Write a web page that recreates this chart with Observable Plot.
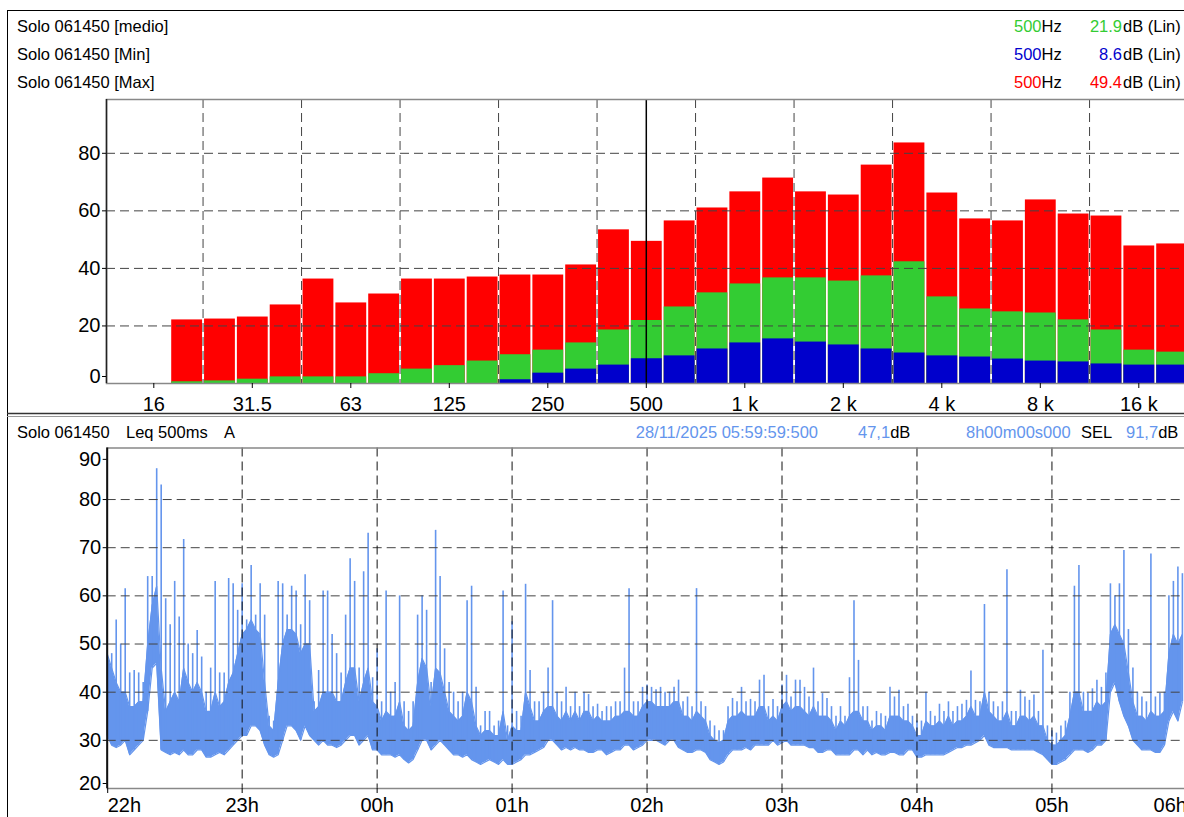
<!DOCTYPE html>
<html>
<head>
<meta charset="utf-8">
<script src="https://cdn.jsdelivr.net/npm/d3@7"></script>
<script src="https://cdn.jsdelivr.net/npm/@observablehq/plot@0.6"></script>
<style>
html, body { margin: 0; padding: 0; background: #fff; overflow: hidden; width: 1184px; height: 817px; }
#root { position: relative; width: 1184px; height: 817px; overflow: hidden; font-family: "Liberation Sans", Arial, sans-serif; }
.chart { position: absolute; left: 0; width: 1200px; }
#overlay { position: absolute; left: 0; top: 0; z-index: 5; pointer-events: none; }
</style>
</head>
<body>
<div id="root">
  <div id="topChart" class="chart" style="top:89px"></div>
  <div id="bottomChart" class="chart" style="top:438px"></div>
  <svg id="overlay" width="1184" height="817" font-family="'Liberation Sans', Arial, sans-serif" font-size="16.5">
    <line x1="7" y1="10.5" x2="1184" y2="10.5" stroke="#000" stroke-width="1"/>
    <line x1="7.5" y1="10" x2="7.5" y2="817" stroke="#000" stroke-width="1"/>
    <line x1="7" y1="413.5" x2="1184" y2="413.5" stroke="#333" stroke-width="1.5"/>
    <line x1="7" y1="416.5" x2="1184" y2="416.5" stroke="#999" stroke-width="1"/>
    <text x="17" y="32">Solo 061450 [medio]</text>
    <text x="17" y="60">Solo 061450 [Min]</text>
    <text x="17" y="88">Solo 061450 [Max]</text>
    <text x="1014" y="32"><tspan fill="#33cc33">500</tspan>Hz</text>
    <text x="1122" y="32" text-anchor="end" fill="#33cc33">21.9</text>
    <text x="1123" y="32">dB (Lin)</text>
    <text x="1014" y="60"><tspan fill="#0000cd">500</tspan>Hz</text>
    <text x="1122" y="60" text-anchor="end" fill="#0000cd">8.6</text>
    <text x="1123" y="60">dB (Lin)</text>
    <text x="1014" y="88"><tspan fill="#ff0000">500</tspan>Hz</text>
    <text x="1122" y="88" text-anchor="end" fill="#ff0000">49.4</text>
    <text x="1123" y="88">dB (Lin)</text>
    <text x="17" y="437.5">Solo 061450</text>
    <text x="126" y="437.5">Leq 500ms</text>
    <text x="224" y="437.5">A</text>
    <text x="818" y="437.5" text-anchor="end" fill="#6495ed">28/11/2025 05:59:59:500</text>
    <text x="858" y="437.5"><tspan fill="#6495ed">47,1</tspan>dB</text>
    <text x="966" y="437.5" fill="#6495ed">8h00m00s000</text>
    <text x="1081" y="437.5">SEL</text>
    <text x="1126" y="437.5"><tspan fill="#6495ed">91,7</tspan>dB</text>
  </svg>
</div>
<script>
// ---------- Top panel: 1/3 octave spectrum ----------
const bandHz = [20, 25, 31.5, 40, 50, 63, 80, 100, 125, 160, 200, 250, 315, 400, 500, 630, 800,
  1000, 1250, 1600, 2000, 2500, 3150, 4000, 5000, 6300, 8000, 10000, 12500, 16000, 20000];
const maxDb = [22.1, 22.4, 23.1, 27.3, 36.3, 28.0, 31.1, 36.3, 36.3, 37.0, 37.7, 37.7, 41.2, 53.4, 49.4, 56.5, 61.0,
  66.6, 71.4, 66.6, 65.5, 75.9, 83.6, 66.2, 57.2, 56.5, 63.8, 58.9, 58.2, 47.8, 48.5];
const medioDb = [0.6, 0.9, 1.5, 2.3, 2.3, 2.3, 3.4, 5.0, 6.2, 7.8, 10.0, 11.6, 14.1, 18.6, 21.9, 26.6, 31.5,
  34.6, 36.7, 36.7, 35.6, 37.4, 42.3, 30.1, 25.9, 24.9, 24.5, 22.1, 18.6, 11.6, 10.9];
const minDb = [0, 0, 0, 0, 0, 0, 0, 0, 0, 0, 1.3, 3.6, 5.0, 6.4, 8.6, 9.6, 12.0,
  14.1, 15.5, 14.4, 13.4, 12.0, 10.6, 9.6, 9.2, 8.5, 7.8, 7.5, 6.8, 6.4, 6.4];
const freqTickLabels = ["16", "31.5", "63", "125", "250", "500", "1 k", "2 k", "4 k", "8 k", "16 k"];
const spectrumYTicks = [0, 20, 40, 60, 80];
const cursorHz = 500;

// ---------- Bottom panel: Leq 500ms A, 22h -> 06h, 2-minute columns ----------
// leqHi: peak of the column, leqBand: top of the dense trace, leqLo: bottom of the trace
const hourLabels = ["22h", "23h", "00h", "01h", "02h", "03h", "04h", "05h", "06h"];
const leqYTicks = [20, 30, 40, 50, 60, 70, 80, 90];
const leqHi = [
  57, 48, 55, 50, 61.5, 44, 44.5, 44, 42, 64,
  64, 86.4, 83, 59.4, 54, 63, 55.6, 71.7, 50, 48,
  52.8, 47.3, 40, 45, 63, 44, 44, 63.6, 62.5, 57,
  62.5, 55, 66.3, 56, 62.5, 56, 35, 34, 63, 62.5,
  56, 62, 61, 54, 64.4, 59, 38, 44.5, 61, 61,
  52, 48, 44, 56, 67.7, 63, 45, 65, 73, 43,
  49, 38, 61, 40, 42, 60, 38, 36, 38, 56,
  60, 57, 42, 73.6, 64, 49, 42, 40, 38, 40,
  59, 62, 41, 33, 36, 36, 33, 34, 61, 33,
  54.6, 36, 35, 62.4, 44.5, 38, 38, 40, 45, 59,
  40, 38, 41, 37, 40, 37, 40, 39.5, 37, 37.5,
  36, 37, 37, 38, 38, 45, 61.5, 38, 38, 41,
  41.5, 41, 40.5, 41, 40, 40, 41, 42.5, 38, 39,
  37, 61.5, 38, 37, 34, 33, 32, 32, 37, 38.7,
  38, 41, 38, 38.5, 38, 42.5, 43.5, 37, 38.5, 37,
  41.5, 43.5, 39, 42.5, 42.5, 41, 39, 45, 38, 39.7,
  38.7, 37, 35, 37, 35, 43, 59, 46.6, 37, 37,
  34, 36, 35.5, 35, 41, 39, 40.4, 37, 37.5, 35,
  34, 34, 40, 36, 35, 37.5, 36, 38, 36, 37,
  37.5, 38.3, 44.4, 38.3, 38, 58.2, 40, 38, 37, 38,
  65.4, 36, 36, 40.4, 39, 38.3, 39.4, 36, 48.7, 33,
  32, 31.5, 33, 34, 40, 62, 66.3, 40, 39.7, 40.7,
  42.5, 41, 44, 62.5, 60, 62.5, 69.4, 53, 45, 40,
  39, 38, 68.7, 39, 39.7, 40, 60, 63, 66, 64.6
];
const leqBand = [
  48, 45, 42, 40, 40, 37, 37, 38, 38, 50,
  58, 62, 45, 36, 38, 40, 38, 45, 42, 40,
  42, 40, 36, 36, 40, 37, 38, 42, 44, 48,
  52, 53, 55, 53, 52, 42, 33, 32, 42, 50,
  53, 53, 52, 48, 50, 50, 36, 37, 40, 40,
  40, 38, 38, 42, 45, 45, 38, 42, 45, 38,
  37, 34, 36, 35, 35, 38, 33, 32, 33, 42,
  47, 45, 37, 45, 44, 40, 36, 35, 34, 35,
  40, 38, 33, 31, 32, 32, 31, 31, 36, 30,
  33, 32, 32, 40, 37, 34, 34, 36, 37, 37,
  35, 34, 36, 34, 36, 34, 36, 36, 34, 35,
  34, 34, 34, 35, 35, 36, 36, 35, 35, 37,
  38, 38, 37, 37, 37, 37, 38, 38, 35, 35,
  34, 36, 35, 34, 31, 30, 29.5, 30, 34, 35,
  35, 36, 35, 35, 35, 37, 37, 34, 35, 34,
  37, 38, 36, 37, 37, 36, 35, 37, 35, 35,
  35, 34, 32, 34, 33, 35, 36, 36, 34, 34,
  32, 33, 33, 32, 35, 35, 35, 34, 34, 33,
  31, 31, 34, 33, 33, 34, 33, 35, 33, 34,
  34, 35, 37, 35, 35, 40, 36, 35, 34, 34,
  36, 33, 33, 35, 35, 34, 35, 33, 33, 30,
  29, 29, 30, 31, 35, 40, 40, 36, 36, 36,
  38, 37, 38, 52, 54, 52, 50, 44, 38, 35,
  35, 34, 36, 35, 35, 36, 48, 52, 50, 52
];
const leqLo = [
  31, 29, 28.5, 29, 30, 27, 28, 29, 30, 36,
  45, 46, 28, 27.5, 27, 27.5, 27, 28, 27, 27,
  28, 28, 26.5, 26.5, 27, 27.5, 27, 28, 29, 30,
  31, 31, 33, 33, 32, 29, 27, 26.5, 27, 30,
  33, 33, 32, 30, 33, 31, 30, 29, 30, 29,
  29, 28.5, 29, 30, 31, 31, 29, 30, 31, 28,
  28, 27, 27, 27, 26.5, 27, 26, 25.3, 26, 28,
  30, 30, 28, 29, 30, 29, 28, 27, 27, 26.5,
  27, 26, 25.5, 25, 25.5, 26, 25.5, 25, 26, 25,
  25, 25.5, 26, 27, 27, 27.5, 28, 28.5, 30, 30,
  29, 28, 28.5, 28, 28.5, 28, 28, 27.5, 27.5, 28,
  28, 27, 27.5, 28, 28, 29, 29, 28, 28.5, 29,
  30, 30, 30, 29.5, 29, 30, 30, 28.5, 28, 27.5,
  27.5, 28, 28, 27.5, 26, 25.5, 25, 25.5, 27, 28,
  28, 28, 28.5, 28, 29, 29, 29, 29, 30, 29,
  29.5, 30, 29, 29, 29, 29, 28.5, 28.5, 27.5, 27.5,
  28, 28, 27, 27, 27, 27, 28, 28, 27, 28,
  27, 27.5, 27, 27, 27.5, 27.5, 27, 27, 28, 28,
  26.5, 26.5, 27, 27, 27, 27, 27, 27.5, 28, 28.5,
  28.5, 29, 29, 29.5, 30, 31, 29, 28.5, 28.5, 28.5,
  28.5, 28, 28, 28, 28, 28, 28, 27.5, 27, 26,
  25, 25, 25.5, 26, 27, 28, 28, 28, 27.5, 28,
  29, 29, 30, 40, 42, 38, 35, 33, 30, 29,
  28, 28, 28, 27.5, 27.5, 29, 34, 36, 34, 38
];

const FONT = "'Liberation Sans', Arial, sans-serif";
const W = 1200;
const svgStyle = {fontFamily: FONT, fontSize: "20px", background: "transparent", maxWidth: "none", overflow: "visible"};

// frequency axis in octaves above the 16 Hz band (15.625 Hz exact), laid out like the analyser
const f0 = 15.625, x16 = 153.3, pxOct = 98.5, leftPx = 106;
const oct = f => Math.log2(f / f0);
const xDomTop = [(leftPx - x16) / pxOct, (W - x16) / pxOct];
const bandOct = f => Math.round(3 * Math.log2(f / 1000)) / 3 + Math.log2(1000 / f0);
const bars = bandHz.map((f, i) => ({o: bandOct(f), max: maxDb[i], med: medioDb[i], min: minDb[i]}));
const tickOct = freqTickLabels.map((_, i) => i);
const octaveEdges = d3.range(freqTickLabels.length - 1).map(n => n + 0.5);
const dash = "9,5";
const rectOpts = {x1: d => d.o - 1 / 6, x2: d => d.o + 1 / 6, y1: 0, insetLeft: 1.5, insetRight: 0.5};

const topPlot = Plot.plot({
  width: W, height: 328, marginTop: 10, marginBottom: 34, marginLeft: leftPx, marginRight: 0,
  style: svgStyle,
  x: {type: "linear", domain: xDomTop},
  y: {domain: [0, 98.7]},
  marks: [
    Plot.rect(bars, {...rectOpts, y2: "max", fill: "#ff0000"}),
    Plot.rect(bars, {...rectOpts, y2: "med", fill: "#33cc33"}),
    Plot.rect(bars.filter(d => d.min > 0), {...rectOpts, y2: "min", fill: "#0000cc"}),
    Plot.gridY(spectrumYTicks.slice(1), {stroke: "#444", strokeOpacity: 1, strokeDasharray: dash}),
    Plot.gridX(octaveEdges, {stroke: "#444", strokeOpacity: 1, strokeDasharray: dash}),
    Plot.ruleX([oct(cursorHz)], {stroke: "#000", strokeWidth: 1.5}),
    Plot.frame({stroke: "#888", strokeWidth: 1.5}),
    Plot.ruleX([xDomTop[0]], {stroke: "#222", strokeWidth: 1.5}),
    Plot.axisX(tickOct, {tickFormat: d => freqTickLabels[d], tickSize: 5, tickPadding: 8, fontSize: 20, label: null}),
    Plot.axisY(spectrumYTicks.slice(1), {tickSize: 4, tickPadding: 2, fontSize: 20, label: null}),
    Plot.axisY(spectrumYTicks.slice(0, 1), {tickSize: 4, tickPadding: 2, fontSize: 20, label: null, dy: -7})
  ]
});
document.getElementById("topChart").append(topPlot);

// ---------- bottom ----------
const cols = leqHi.map((h, i) => ({t: 2 * i, hi: h, band: leqBand[i], lo: leqLo[i]}));
const hourTicks = hourLabels.map((_, i) => i * 60);
const hourName = new Map(hourTicks.map((v, i) => [v, hourLabels[i]]));
const hourFmt = d => hourName.get(d);
const axX = {tickFormat: hourFmt, tickSize: 5, tickPadding: 4, fontSize: 20, label: null};
const axY = {tickSize: 4, tickPadding: 2, fontSize: 20, label: null};
const blue = "#6495ed";

const bottomPlot = Plot.plot({
  width: W, height: 379, marginTop: 9.5, marginBottom: 29, marginLeft: 106.7, marginRight: 13.6,
  style: svgStyle,
  x: {domain: [0, 480]},
  y: {domain: [20, 90.7]},
  marks: [
    Plot.areaY(cols, {x: "t", y1: "lo", y2: "band", fill: blue}),
    Plot.line(cols, {x: "t", y: "band", stroke: blue, strokeWidth: 1.2}),
    Plot.line(cols, {x: "t", y: "lo", stroke: blue, strokeWidth: 1.2}),
    Plot.ruleX(cols, {x: "t", y1: "lo", y2: "hi", stroke: blue, strokeWidth: 1.6}),
    Plot.gridY(leqYTicks.slice(1, -1), {stroke: "#444", strokeOpacity: 1, strokeDasharray: dash}),
    Plot.gridX(hourTicks.slice(1, -1), {stroke: "#111", strokeOpacity: 1, strokeDasharray: dash}),
    Plot.frame({stroke: "#888", strokeWidth: 1.5}),
    Plot.ruleX(hourTicks.slice(0, 1), {stroke: "#111", strokeWidth: 2}),
    Plot.axisX(hourTicks.slice(0, 1), {...axX, textAnchor: "start", dx: 0.5}),
    Plot.axisX(hourTicks.slice(1, -1), axX),
    Plot.axisX(hourTicks.slice(-1), {...axX, textAnchor: "end"}),
    Plot.axisY(leqYTicks.slice(1, -1), axY),
    Plot.axisY(leqYTicks.slice(-1), {...axY, dy: 8}),
    Plot.axisY(leqYTicks.slice(0, 1), {...axY, dy: -5})
  ]
});
document.getElementById("bottomChart").append(bottomPlot);
</script>
</body>
</html>
